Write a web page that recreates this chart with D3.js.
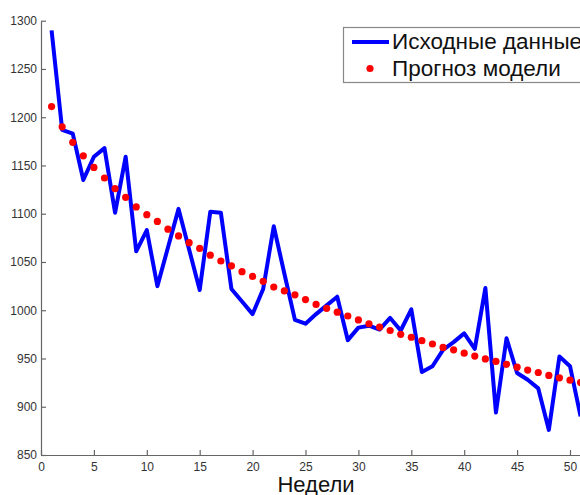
<!DOCTYPE html>
<html lang="ru">
<head>
  <meta charset="UTF-8">
  <title>Недели</title>
  <style>
    body { margin: 0; background: #fff; }
    text { font-family: "Liberation Sans", Arial, sans-serif; }
  </style>
</head>
<body>
  <script src="https://cdn.jsdelivr.net/npm/d3@7/dist/d3.min.js"></script>
  <script>
    var width = 580;
    var height = 495;

    // исходные данные (по неделям)
    var weeks = d3.range(1, 52);
    var actual = [1290, 1187, 1183, 1135, 1159, 1168, 1101, 1159, 1061, 1083,
      1025, 1065, 1105, 1063, 1021, 1102, 1101, 1022, 1009, 996,
      1022, 1087, 1038, 990, 986, 996, 1005, 1014, 969, 982,
      984, 980, 992, 979, 1001, 936, 942, 959, 967, 976,
      960, 1023, 894, 971, 935, 928, 919, 876, 952, 942, 890];

    // прогноз модели
    var forecastWeeks = d3.range(1, 53);
    var forecast = [1211, 1190, 1174, 1160, 1148, 1137, 1126, 1117, 1107, 1099,
      1092, 1084, 1077, 1070, 1064, 1057, 1051, 1046, 1040, 1035,
      1030, 1024, 1020, 1016, 1011, 1006, 1002, 998, 994, 990,
      986, 982.5, 979, 975, 972, 968.5, 965, 961.5, 959, 955.5,
      952.5, 949.5, 947, 944, 941, 938, 935.5, 932.5, 930, 927.5,
      925, 922.5];

    var xTicks = [0, 5, 10, 15, 20, 25, 30, 35, 40, 45, 50];
    var yTicks = [850, 900, 950, 1000, 1050, 1100, 1150, 1200, 1250, 1300];

    var svg = d3.select("body")
      .append("svg")
      .attr("width", width)
      .attr("height", height);

    var x = d3.scaleLinear().domain([0, 55]).range([41, 41 + 55 * 10.58]);
    var y = d3.scaleLinear().domain([850, 1300]).range([455, 20.7]);

    // оси (метки внутрь, как в MATLAB)
    var xAxis = svg.append("g")
      .attr("transform", "translate(0," + y(850) + ")")
      .call(d3.axisBottom(x).tickValues(xTicks).tickFormat(d3.format("d"))
        .tickSize(-5).tickPadding(7).tickSizeOuter(0));
    var yAxis = svg.append("g")
      .attr("transform", "translate(" + x(0) + ",0)")
      .call(d3.axisLeft(y).tickValues(yTicks).tickFormat(d3.format("d"))
        .tickSize(-5).tickPadding(4).tickSizeOuter(0));

    [xAxis, yAxis].forEach(function (g) {
      g.select(".domain").attr("stroke", "#666").attr("stroke-width", 1.2);
      g.selectAll(".tick line").attr("stroke", "#666").attr("stroke-width", 1.2);
      g.selectAll(".tick text")
        .attr("fill", "#333")
        .style("font-size", "12px");
    });

    svg.append("text")
      .attr("x", 316)
      .attr("y", 492)
      .attr("text-anchor", "middle")
      .attr("fill", "#111")
      .style("font-size", "22px")
      .text("Недели");

    // линия исходных данных
    var line = d3.line()
      .x(function (d, i) { return x(weeks[i]); })
      .y(function (d) { return y(d); });

    svg.append("path")
      .datum(actual)
      .attr("fill", "none")
      .attr("stroke", "#0000ff")
      .attr("stroke-width", 4)
      .attr("stroke-linejoin", "round")
      .attr("d", line);

    // точки прогноза
    svg.append("g")
      .selectAll("circle")
      .data(forecast)
      .enter()
      .append("circle")
      .attr("cx", function (d, i) { return x(forecastWeeks[i]); })
      .attr("cy", function (d) { return y(d); })
      .attr("r", 3.6)
      .attr("fill", "#ff0000");

    // легенда
    var legend = svg.append("g");
    legend.append("rect")
      .attr("x", 343.5)
      .attr("y", 27.5)
      .attr("width", 300)
      .attr("height", 55)
      .attr("fill", "#fff")
      .attr("stroke", "#888")
      .attr("stroke-width", 1.2);
    legend.append("line")
      .attr("x1", 352).attr("x2", 389)
      .attr("y1", 42).attr("y2", 42)
      .attr("stroke", "#0000ff")
      .attr("stroke-width", 4);
    legend.append("circle")
      .attr("cx", 370).attr("cy", 68.5)
      .attr("r", 3.6)
      .attr("fill", "#ff0000");
    legend.append("text")
      .attr("x", 392).attr("y", 49)
      .attr("fill", "#111")
      .style("font-size", "22.5px")
      .text("Исходные данные");
    legend.append("text")
      .attr("x", 392).attr("y", 76)
      .attr("fill", "#111")
      .style("font-size", "22.5px")
      .text("Прогноз модели");
  </script>
</body>
</html>
